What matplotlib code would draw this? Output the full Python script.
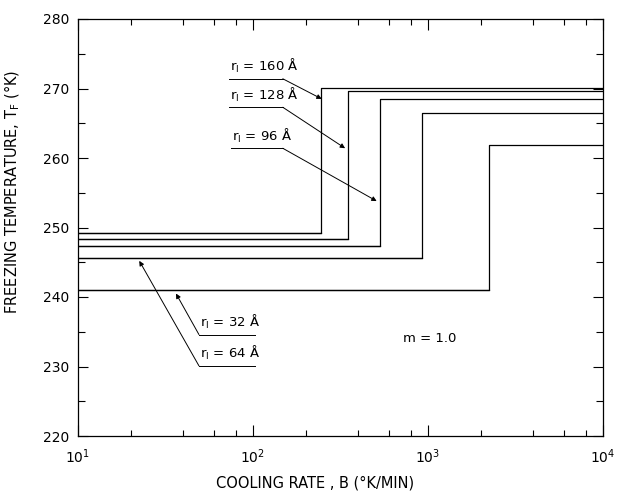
import numpy as np
import matplotlib
matplotlib.use('Agg')
import matplotlib.pyplot as plt
from matplotlib.ticker import LogLocator, MultipleLocator, NullFormatter

# pore radius (Angstrom) for each curve
radius = [160, 128, 96, 64, 32]
# freezing temperature below / above the jump (K)
t_low = [249.2, 248.3, 247.3, 245.6, 241.0]
t_high = [270.1, 269.7, 268.5, 266.5, 261.8]
# cooling rate where the jump happens (K/min)
jump_rate = [245, 349, 532, 924, 2232]

rate_min, rate_max = 10, 1e4

# label placement: (text x, underline y, underline end x, arrow x, arrow y)
label_pos = {
    160: (72.9, 271.4, 148, 247, 268.5),
    128: (72.9, 267.3, 148, 336, 261.4),
    96: (74.8, 261.4, 148, 509, 253.8),
    32: (49.1, 234.6, 102.6, 36.3, 240.5),
    64: (49.1, 230.1, 102.6, 22.4, 245.2),
}

plt.rcParams['font.family'] = 'DejaVu Sans'
fig = plt.figure(figsize=(6.17, 5.0), dpi=100)
ax = fig.add_axes([0.1264, 0.128, 0.8509, 0.834])

for r, lo, hi, xj in zip(radius, t_low, t_high, jump_rate):
    ax.step([rate_min, xj, rate_max], [lo, hi, hi], where='post', color='black', lw=0.9)
    ax.plot([rate_min, xj], [lo, lo], color='black', lw=0.9)

for r in radius:
    tx, uy, ux, ax_, ay = label_pos[r]
    if r in (32, 64):
        x0, x1 = tx, ux
        tail = x0
    else:
        x0, x1 = tx, ux
        tail = x1
    ax.plot([x0, x1], [uy, uy], color='black', lw=0.7)
    ax.text(x0 * 1.02, uy + 0.5, r'r$_{\mathrm{I}}$ = %d $\mathrm{\AA}$' % r, fontsize=9.5,
            ha='left', va='bottom')
    ax.annotate('', xy=(ax_, ay), xytext=(tail, uy),
                arrowprops=dict(arrowstyle='-|>', color='black', lw=0.7,
                                mutation_scale=7, shrinkA=0, shrinkB=0))

ax.text(0.669, 0.233, 'm = 1.0', transform=ax.transAxes, fontsize=9.5, ha='center', va='center')

ax.set_xscale('log')
ax.set_xlim(rate_min, rate_max)
ax.set_ylim(220, 280)
ax.xaxis.set_major_locator(LogLocator(base=10))
ax.xaxis.set_minor_locator(LogLocator(base=10, subs=[2, 4, 6, 8]))
ax.xaxis.set_minor_formatter(NullFormatter())
ax.yaxis.set_major_locator(MultipleLocator(10))
ax.yaxis.set_minor_locator(MultipleLocator(5))

ax.tick_params(which='both', direction='in', top=True, right=True, labelsize=10, width=0.8)
ax.tick_params(axis='x', which='major', length=8, pad=8)
ax.tick_params(axis='x', which='minor', length=4)
ax.tick_params(axis='y', which='major', length=7, pad=6)
ax.tick_params(axis='y', which='minor', length=5)
for s in ax.spines.values():
    s.set_linewidth(0.9)

fig.text(315 / 617, 1 - 483 / 500, 'COOLING RATE , B (°K/MIN)', ha='center', va='center', fontsize=10.5)
fig.text(12 / 617, 1 - 192 / 500, r'FREEZING TEMPERATURE, T$_\mathrm{F}$ (°K)', ha='center', va='center',
         rotation=90, fontsize=10.5)

fig.savefig('out.png', dpi=100)
